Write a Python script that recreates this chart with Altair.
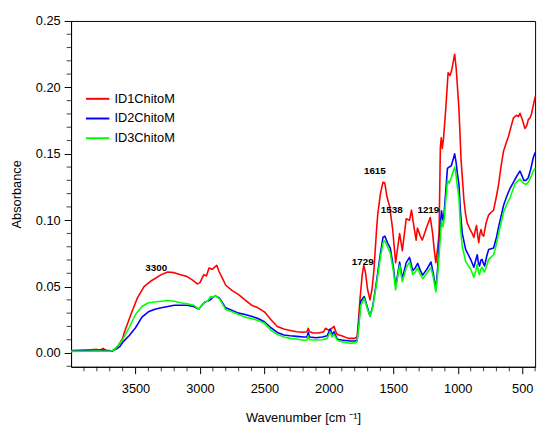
import altair as alt
import pandas as pd

# ---------------- data ----------------
red_wn = [4000, 3950, 3900, 3850, 3800, 3780, 3760, 3750, 3740, 3720, 3700, 3680, 3660, 3630, 3600,
          3587, 3536, 3485, 3434, 3383, 3300, 3250, 3200, 3150, 3100, 3060, 3020, 3000, 2970, 2950,
          2930, 2905, 2870, 2850, 2820, 2800, 2750, 2700, 2650, 2600, 2550, 2500, 2449, 2400, 2350,
          2300, 2250, 2200, 2170, 2160, 2150, 2120, 2080, 2040, 2026, 2000, 1985, 1960, 1945, 1935,
          1900, 1850, 1800, 1781, 1770, 1758, 1740, 1729, 1715, 1700, 1681, 1665, 1650, 1630, 1620,
          1600, 1580, 1566, 1550, 1528, 1505, 1482, 1465, 1451, 1430, 1400, 1374, 1359, 1340, 1323,
          1313, 1290, 1275, 1240, 1213, 1195, 1183, 1170, 1155, 1145, 1135, 1128, 1120, 1110, 1093,
          1075, 1060, 1047, 1030, 1024, 1012, 991, 974, 952, 940, 927, 905, 888, 875, 865, 854, 845,
          837, 828, 819, 810, 799, 780, 760, 740, 722, 700, 683, 665, 645, 625, 607, 585, 568, 545,
          530, 517, 500, 479, 465, 453, 440, 428, 415, 402, 400]
red_abs = [0.0018, 0.0020, 0.0022, 0.0025, 0.0027, 0.0022, 0.0028, 0.0035, 0.0025, 0.0020, 0.0018,
           0.0015, 0.0030, 0.0060, 0.0110, 0.0155, 0.0290, 0.0415, 0.0500, 0.0540, 0.0590, 0.0610,
           0.0605, 0.0590, 0.0575, 0.0550, 0.0520, 0.0530, 0.0590, 0.0580, 0.0640, 0.0630, 0.0660,
           0.0610, 0.0550, 0.0510, 0.0470, 0.0440, 0.0400, 0.0360, 0.0340, 0.0310, 0.0250, 0.0200,
           0.0180, 0.0170, 0.0160, 0.0156, 0.0160, 0.0186, 0.0160, 0.0150, 0.0150, 0.0160, 0.0186,
           0.0170, 0.0180, 0.0200, 0.0160, 0.0140, 0.0130, 0.0110, 0.0110, 0.0120, 0.0250, 0.0410,
           0.0600, 0.0660, 0.0600, 0.0480, 0.0400, 0.0480, 0.0630, 0.0930, 0.1050, 0.1200, 0.1286,
           0.1280, 0.1180, 0.1100, 0.0930, 0.0680, 0.0800, 0.0900, 0.0770, 0.1010, 0.1000, 0.1076,
           0.0950, 0.0850, 0.0940, 0.0880, 0.0850, 0.0950, 0.1020, 0.0900, 0.0780, 0.0680, 0.0800,
           0.0900, 0.1550, 0.1620, 0.1540, 0.1620, 0.1840, 0.2110, 0.2090, 0.2130, 0.2220, 0.2250,
           0.2140, 0.1840, 0.1450, 0.1150, 0.1050, 0.0980, 0.0930, 0.0900, 0.0870, 0.0920, 0.0960,
           0.0880, 0.0830, 0.0900, 0.0930, 0.0890, 0.0880, 0.0980, 0.1040, 0.1060, 0.1076, 0.1180,
           0.1270, 0.1400, 0.1520, 0.1580, 0.1630, 0.1710, 0.1770, 0.1790, 0.1780, 0.1805, 0.1760,
           0.1690, 0.1710, 0.1757, 0.1770, 0.1800, 0.1860, 0.1916, 0.1930]

blue_wn = [4000, 3900, 3800, 3750, 3720, 3680, 3650, 3620, 3600, 3550, 3500, 3450, 3400, 3350, 3300,
           3200, 3100, 3050, 3010, 2985, 2960, 2940, 2920, 2900, 2880, 2850, 2820, 2800, 2750, 2700,
           2650, 2600, 2550, 2500, 2449, 2400, 2349, 2300, 2250, 2195, 2170, 2160, 2150, 2100, 2050,
           2013, 1990, 1975, 1960, 1935, 1900, 1835, 1800, 1781, 1770, 1752, 1726, 1700, 1681, 1660,
           1630, 1600, 1580, 1566, 1545, 1523, 1500, 1482, 1465, 1451, 1430, 1400, 1374, 1349, 1330,
           1311, 1290, 1272, 1240, 1208, 1190, 1170, 1155, 1140, 1131, 1126, 1115, 1106, 1080, 1067,
           1050, 1035, 1024, 1012, 1003, 991, 978, 965, 939, 900, 875, 860, 849, 840, 831, 820, 811,
           800, 792, 775, 760, 722, 700, 683, 645, 620, 594, 555, 530, 517, 500, 487, 470, 453, 435,
           414, 400]
blue_abs = [0.0015, 0.0017, 0.0018, 0.0022, 0.0015, 0.0015, 0.0030, 0.0050, 0.0080, 0.0130, 0.0190,
            0.0270, 0.0310, 0.0330, 0.0340, 0.0360, 0.0360, 0.0350, 0.0330, 0.0360, 0.0385, 0.0390,
            0.0400, 0.0420, 0.0430, 0.0415, 0.0370, 0.0340, 0.0320, 0.0300, 0.0290, 0.0277, 0.0260,
            0.0235, 0.0190, 0.0155, 0.0136, 0.0130, 0.0125, 0.0120, 0.0120, 0.0155, 0.0120, 0.0115,
            0.0120, 0.0130, 0.0180, 0.0140, 0.0160, 0.0104, 0.0098, 0.0090, 0.0090, 0.0096, 0.0200,
            0.0390, 0.0425, 0.0340, 0.0277, 0.0350, 0.0540, 0.0750, 0.0870, 0.0880, 0.0830, 0.0787,
            0.0650, 0.0500, 0.0600, 0.0685, 0.0560, 0.0680, 0.0720, 0.0620, 0.0640, 0.0675, 0.0620,
            0.0586, 0.0630, 0.0685, 0.0600, 0.0475, 0.0650, 0.0900, 0.1015, 0.1070, 0.1000, 0.1050,
            0.1390, 0.1400, 0.1410, 0.1460, 0.1500, 0.1430, 0.1350, 0.1270, 0.1050, 0.0900, 0.0780,
            0.0705, 0.0645, 0.0700, 0.0740, 0.0680, 0.0655, 0.0700, 0.0705, 0.0670, 0.0655, 0.0730,
            0.0780, 0.0790, 0.0870, 0.0950, 0.1110, 0.1180, 0.1240, 0.1310, 0.1350, 0.1370, 0.1330,
            0.1300, 0.1300, 0.1320, 0.1380, 0.1470, 0.1510]

green_wn = [4000, 3900, 3800, 3700, 3670, 3640, 3600, 3550, 3500, 3450, 3400, 3300, 3250, 3200, 3150,
            3100, 3050, 3010, 2985, 2960, 2940, 2920, 2900, 2880, 2850, 2820, 2800, 2750, 2700, 2650,
            2600, 2550, 2500, 2449, 2400, 2349, 2300, 2250, 2195, 2170, 2160, 2150, 2100, 2050, 2013,
            1990, 1975, 1960, 1935, 1900, 1835, 1800, 1781, 1770, 1752, 1726, 1700, 1681, 1660, 1630,
            1600, 1580, 1566, 1545, 1523, 1500, 1482, 1465, 1451, 1430, 1400, 1374, 1349, 1330, 1311,
            1290, 1272, 1240, 1208, 1190, 1170, 1155, 1140, 1126, 1115, 1106, 1080, 1067, 1050, 1035,
            1024, 1012, 1003, 991, 978, 965, 939, 900, 875, 860, 849, 840, 831, 820, 811, 800, 792,
            775, 760, 722, 700, 683, 645, 620, 594, 555, 530, 517, 500, 487, 470, 453, 435, 414, 400]
green_abs = [0.0012, 0.0013, 0.0015, 0.0013, 0.0020, 0.0050, 0.0100, 0.0190, 0.0290, 0.0350, 0.0378,
             0.0390, 0.0395, 0.0390, 0.0378, 0.0370, 0.0360, 0.0330, 0.0360, 0.0385, 0.0390, 0.0425,
             0.0420, 0.0430, 0.0410, 0.0360, 0.0327, 0.0310, 0.0290, 0.0270, 0.0260, 0.0245, 0.0225,
             0.0170, 0.0140, 0.0120, 0.0110, 0.0105, 0.0096, 0.0098, 0.0130, 0.0100, 0.0098, 0.0100,
             0.0110, 0.0160, 0.0120, 0.0140, 0.0096, 0.0085, 0.0074, 0.0075, 0.0085, 0.0180, 0.0360,
             0.0410, 0.0330, 0.0277, 0.0340, 0.0520, 0.0720, 0.0830, 0.0845, 0.0800, 0.0750, 0.0620,
             0.0475, 0.0580, 0.0660, 0.0536, 0.0640, 0.0685, 0.0590, 0.0610, 0.0640, 0.0590, 0.0560,
             0.0600, 0.0645, 0.0570, 0.0460, 0.0600, 0.0800, 0.1000, 0.0950, 0.1000, 0.1300, 0.1280,
             0.1320, 0.1370, 0.1400, 0.1330, 0.1250, 0.1170, 0.0930, 0.0800, 0.0690, 0.0630, 0.0570,
             0.0620, 0.0668, 0.0610, 0.0590, 0.0635, 0.0645, 0.0620, 0.0610, 0.0660, 0.0705, 0.0740,
             0.0820, 0.0900, 0.1060, 0.1120, 0.1170, 0.1276, 0.1300, 0.1310, 0.1290, 0.1276, 0.1270,
             0.1286, 0.1320, 0.1370, 0.1390]

series_names = ["ID1ChitoM", "ID2ChitoM", "ID3ChitoM"]
series_colors = ["#ff0000", "#0000ff", "#00ff00"]

peak_labels = ["3300", "1729", "1615", "1538", "1219"]
peak_wn = [3339, 1737, 1643, 1512, 1228]
peak_abs = [0.0643, 0.0685, 0.137, 0.108, 0.108]

y_major = [0.00, 0.05, 0.10, 0.15, 0.20, 0.25]
y_minor = [round(i * 0.01, 2) for i in range(-1, 26) if i % 5 != 0]
x_major = [3500, 3000, 2500, 2000, 1500, 1000, 500]
x_minor = [v for v in range(3900, 399, -100) if v % 500 != 0]

# ---------------- tables ----------------
rows = []
for name, wns, vals in zip(series_names, [red_wn, blue_wn, green_wn], [red_abs, blue_abs, green_abs]):
    for i, (w, v) in enumerate(zip(wns, vals)):
        rows.append({"series": name, "wn": w, "abs": v, "order": i})
spectra = pd.DataFrame(rows)
labels_df = pd.DataFrame({"label": peak_labels, "wn": peak_wn, "abs": peak_abs})
xminor_df = pd.DataFrame({"wn": x_minor})
yminor_df = pd.DataFrame({"abs": y_minor})

FONT = "Liberation Sans"
xscale = alt.Scale(domain=[400, 4000], reverse=True, nice=False, zero=False)
yscale = alt.Scale(domain=[-0.0104, 0.25], nice=False, zero=False)

x_axis = alt.Axis(
    values=x_major, grid=False, orient="bottom", format="d", tickSize=7,
    labelOverlap=False, labelFont=FONT, labelFontSize=13, labelColor="#000", labelPadding=9,
    domain=True, domainColor="#000", tickColor="#000",
    title="Wavenumber [cm ⁻¹]", titleFont=FONT, titleFontSize=13, titleFontWeight="normal",
    titleColor="#000", titlePadding=17,
)
y_axis = alt.Axis(
    values=y_major, grid=False, orient="left", format=".2f", tickSize=7,
    labelOverlap=False, labelFont=FONT, labelFontSize=13, labelColor="#000", labelPadding=4,
    domain=True, domainColor="#000", tickColor="#000",
    title="Absorbance", titleFont=FONT, titleFontSize=13, titleFontWeight="normal",
    titleColor="#000", titlePadding=12,
)

lines = alt.Chart(spectra).mark_line(strokeWidth=1.6, strokeJoin="round").encode(
    x=alt.X("wn:Q", scale=xscale, axis=x_axis),
    y=alt.Y("abs:Q", scale=yscale, axis=y_axis),
    color=alt.Color("series:N", scale=alt.Scale(domain=series_names, range=series_colors),
                    legend=alt.Legend(title=None, orient="none", legendX=14, legendY=66,
                                      symbolType="stroke", symbolSize=560, symbolStrokeWidth=2,
                                      labelFont=FONT, labelFontSize=13, labelColor="#000",
                                      labelOffset=4, rowPadding=-7)),
    order="order:Q",
)

texts = alt.Chart(labels_df).mark_text(font=FONT, fontSize=10, fontWeight="bold",
                                       color="#000", baseline="middle", align="center").encode(
    x=alt.X("wn:Q", scale=xscale, axis=x_axis),
    y=alt.Y("abs:Q", scale=yscale, axis=y_axis),
    text="label:N",
)

# minor tick marks (every 100 cm-1 and every 0.01), hanging outside the frame
xminor = alt.Chart(xminor_df).mark_tick(color="#000", thickness=1.1, size=4.5, orient="vertical",
                                        clip=False, yOffset=2.25).encode(
    x=alt.X("wn:Q", scale=xscale, axis=x_axis),
    y=alt.value(351),
)
yminor = alt.Chart(yminor_df).mark_tick(color="#000", thickness=1.1, size=4.5, orient="horizontal",
                                        clip=False, xOffset=-2.25).encode(
    y=alt.Y("abs:Q", scale=yscale, axis=y_axis),
    x=alt.value(0),
)

chart = alt.layer(lines, texts, xminor, yminor).properties(
    width=471, height=351,
    autosize=alt.AutoSizeParams(type="none"),
    padding={"left": 64, "top": 10, "right": 7, "bottom": 62},
    background="white",
).configure_view(stroke="#000", strokeWidth=1)

chart.save("out.html", embed_options={"renderer": "svg", "actions": False})
